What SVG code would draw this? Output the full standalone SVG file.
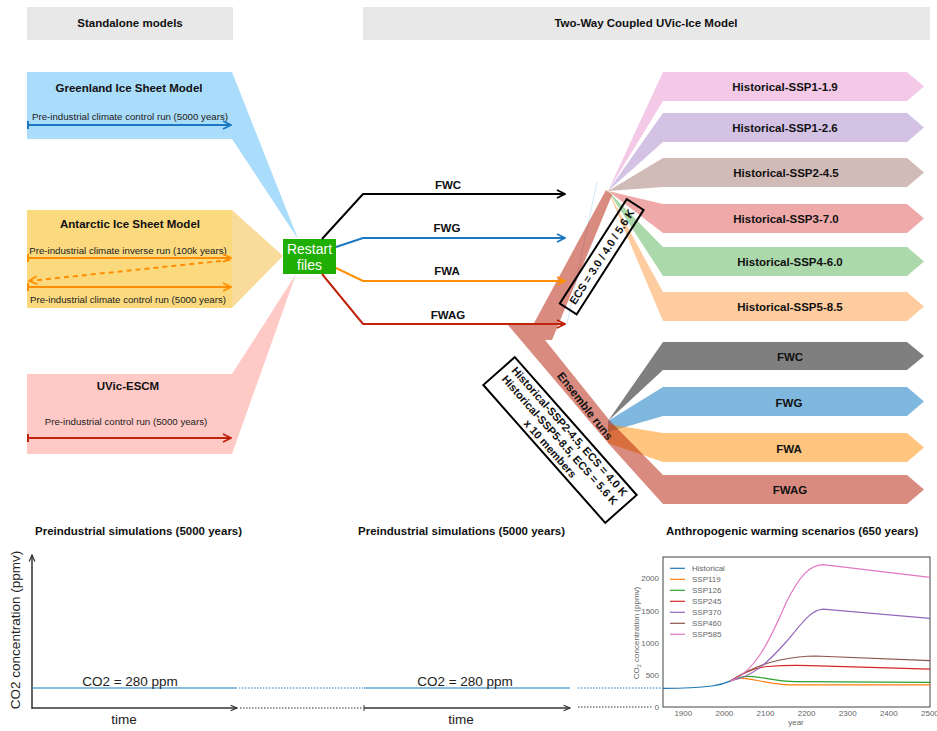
<svg xmlns="http://www.w3.org/2000/svg" width="937" height="731" viewBox="0 0 937 731">
<style>
text{font-family:"Liberation Sans",Arial,Helvetica,sans-serif;}
.hdr{font-size:11.5px;font-weight:bold;fill:#111;text-anchor:middle}
.ttl{font-size:11.5px;font-weight:bold;fill:#111;text-anchor:middle}
.sm{font-size:9.7px;fill:#222;text-anchor:middle}
.lab{font-size:11.5px;font-weight:bold;fill:#111;text-anchor:middle}
.box{font-size:11px;font-weight:bold;fill:#111;text-anchor:middle}
.ln{fill:none;stroke-width:2}
.tk{font-size:8px;fill:#666}
.lg{font-size:8px;fill:#666}
.big{font-size:13.5px;fill:#222;text-anchor:middle}
.cv{fill:none;stroke-width:1.2}
.dot{fill:none;stroke-width:1.2;stroke-dasharray:1.5 1.5}
</style>
<defs>
<marker id="mK" viewBox="0 0 10 10" refX="9" refY="5" markerWidth="10" markerHeight="10" markerUnits="userSpaceOnUse" orient="auto"><path d="M1,1 L9,5 L1,9" fill="none" stroke="#000" stroke-width="1.8"/></marker>
<marker id="mB" viewBox="0 0 10 10" refX="9" refY="5" markerWidth="10" markerHeight="10" markerUnits="userSpaceOnUse" orient="auto"><path d="M1,1 L9,5 L1,9" fill="none" stroke="#1a78c2" stroke-width="1.8"/></marker>
<marker id="mO" viewBox="0 0 10 10" refX="9" refY="5" markerWidth="10" markerHeight="10" markerUnits="userSpaceOnUse" orient="auto"><path d="M1,1 L9,5 L1,9" fill="none" stroke="#ff8f00" stroke-width="1.8"/></marker>
<marker id="mR" viewBox="0 0 10 10" refX="9" refY="5" markerWidth="10" markerHeight="10" markerUnits="userSpaceOnUse" orient="auto"><path d="M1,1 L9,5 L1,9" fill="none" stroke="#c0220c" stroke-width="1.8"/></marker>
<marker id="mA" viewBox="0 0 10 10" refX="9" refY="5" markerWidth="8" markerHeight="8" markerUnits="userSpaceOnUse" orient="auto"><path d="M1,1.5 L9,5 L1,8.5" fill="none" stroke="#333" stroke-width="1.5"/></marker>
</defs>

<g id="header-standalone">
<rect x="27" y="7" width="206" height="33" fill="#e8e8e8"/>
<text x="130" y="27" class="hdr">Standalone models</text>
</g>
<g id="header-coupled">
<rect x="363" y="7" width="567" height="33" fill="#e8e8e8"/>
<text x="646" y="27" class="hdr">Two-Way Coupled UVic-Ice Model</text>
</g>

<g id="greenland">
<polygon points="27,72 232,72 298,239 232,139 27,139" fill="#aadcfb"/>
<text x="129" y="92" class="ttl">Greenland Ice Sheet Model</text>
<text x="130" y="120" class="sm">Pre-industrial climate control run (5000 years)</text>
<line x1="28" y1="125" x2="231" y2="125" stroke="#1a78c2" stroke-width="2" marker-end="url(#mB)"/>
<line x1="28" y1="121" x2="28" y2="129" stroke="#1a78c2" stroke-width="2"/>
</g>

<g id="antarctic">
<rect x="27" y="210" width="205" height="98" fill="#fbd97f"/>
<polygon points="232,210 283,256 232,308" fill="#f9dc9b"/>
<text x="130" y="228" class="ttl">Antarctic Ice Sheet Model</text>
<text x="128" y="253.5" class="sm">Pre-industrial climate inverse run (100k years)</text>
<line x1="28" y1="258" x2="231" y2="258" stroke="#ff8f00" stroke-width="2" marker-end="url(#mO)"/>
<line x1="28" y1="254" x2="28" y2="262" stroke="#ff8f00" stroke-width="2"/>
<line x1="230" y1="260" x2="29" y2="281" stroke="#ff8f00" stroke-width="2" stroke-dasharray="5 4" marker-end="url(#mO)"/>
<line x1="28" y1="287" x2="231" y2="287" stroke="#ff8f00" stroke-width="2" marker-end="url(#mO)"/>
<line x1="28" y1="283" x2="28" y2="291" stroke="#ff8f00" stroke-width="2"/>
<text x="128" y="302.5" class="sm">Pre-industrial climate control run (5000 years)</text>
</g>

<g id="uvic-escm">
<polygon points="27,374 232,374 296,274 232,454 27,454" fill="#ffc9c6"/>
<text x="128" y="390" class="ttl">UVic-ESCM</text>
<text x="126" y="425" class="sm">Pre-industrial control run (5000 years)</text>
<line x1="28" y1="438" x2="231" y2="438" stroke="#c0220c" stroke-width="2" marker-end="url(#mR)"/>
<line x1="28" y1="434" x2="28" y2="442" stroke="#c0220c" stroke-width="2"/>
</g>

<line x1="597" y1="182" x2="567" y2="324" stroke="#cfe7f7" stroke-width="1"/>

<g id="ssp-fans">
<polygon points="608,191 663,72 907,72 924,86.5 907,101 663,101" fill="#e377c2" fill-opacity="0.4"/>
<polygon points="608,191 663,113 907,113 924,127.5 907,142 663,142" fill="#9467bd" fill-opacity="0.4"/>
<polygon points="608,191 663,158 907,158 924,172.5 907,187 663,187" fill="#8c564b" fill-opacity="0.4"/>
<polygon points="608,191 663,204 907,204 924,218.5 907,233 663,233" fill="#d62728" fill-opacity="0.4"/>
<polygon points="608,191 663,247 907,247 924,261.5 907,276 663,276" fill="#2ca02c" fill-opacity="0.4"/>
<polygon points="608,191 663,292 907,292 924,306.5 907,321 663,321" fill="#ff7f0e" fill-opacity="0.4"/>
</g>
<g id="ssp-labels">
<text x="785" y="90.5" class="lab">Historical-SSP1-1.9</text>
<text x="785" y="131.5" class="lab">Historical-SSP1-2.6</text>
<text x="786" y="176.5" class="lab">Historical-SSP2-4.5</text>
<text x="786" y="223" class="lab">Historical-SSP3-7.0</text>
<text x="790" y="265.5" class="lab">Historical-SSP4-6.0</text>
<text x="790" y="310.5" class="lab">Historical-SSP5-8.5</text>
</g>

<g id="ensemble-fans">
<polygon points="608,421 663,342 907,342 924,356 907,370 663,370" fill="#000" fill-opacity="0.5"/>
<polygon points="608,421 663,387 907,387 924,401.5 907,416 663,416 608,432" fill="#0072bd" fill-opacity="0.5"/>
<polygon points="608,424 663,433 907,433 924,447.5 907,462 663,462 608,443" fill="#ff8c00" fill-opacity="0.5"/>
<path d="M508,325 L533,325 L610,421 L663,475 L907,475 L924,489.5 L907,504 L663,504 L608,443 Z M612,195 L552,340 L524,340 L533,325 L606,190 Z" fill="#b31800" fill-opacity="0.5"/>
<text x="790" y="360.5" class="lab">FWC</text>
<text x="789" y="407" class="lab">FWG</text>
<text x="789" y="453" class="lab">FWA</text>
<text x="790" y="494" class="lab">FWAG</text>
</g>

<g id="restart-files">
<rect x="283" y="239" width="53" height="35" fill="#1fae03"/>
<text x="309.5" y="254" font-size="14" fill="#fff" text-anchor="middle">Restart</text>
<text x="309.5" y="270" font-size="14" fill="#fff" text-anchor="middle">files</text>
</g>

<g id="connectors">
<polyline class="ln" points="322,239 363,194 565,194" stroke="#000" marker-end="url(#mK)"/>
<polyline class="ln" points="336,247 363,238 565,238" stroke="#1a78c2" marker-end="url(#mB)"/>
<polyline class="ln" points="336,268 363,281 565,281" stroke="#ff8f00" marker-end="url(#mO)"/>
<polyline class="ln" points="322,274 363,324 565,324" stroke="#c0220c" marker-end="url(#mR)"/>
<text x="448" y="189" class="lab">FWC</text>
<text x="447" y="232" class="lab">FWG</text>
<text x="447" y="275" class="lab">FWA</text>
<text x="448" y="319" class="lab">FWAG</text>
</g>

<g id="ecs-label" transform="translate(601.7,256.7) rotate(-57.3)">
<rect x="-62" y="-10" width="124" height="20" fill="none" stroke="#000" stroke-width="2"/>
<text x="0" y="4" class="box">ECS = 3.0 / 4.0 / 5.6 K</text>
</g>

<g id="ensemble-label">
<text transform="translate(585,406) rotate(52)" y="4" class="lab" font-size="11">Ensemble runs</text>
</g>

<g id="ensemble-box" transform="translate(560,440) rotate(48.5)">
<rect x="-92" y="-21" width="184" height="42" fill="none" stroke="#000" stroke-width="2"/>
<text x="0" y="-9" class="box">Historical-SSP2-4.5, ECS = 4.0 K</text>
<text x="0" y="4" class="box">Historical-SSP5-8.5, ECS = 5.6 K</text>
<text x="0" y="17" class="box">x 10 members</text>
</g>

<g id="bottom-titles">
<text x="35" y="535" font-size="11.5" font-weight="bold" fill="#111">Preindustrial simulations (5000 years)</text>
<text x="358" y="535" font-size="11.5" font-weight="bold" fill="#111">Preindustrial simulations (5000 years)</text>
<text x="666" y="535" font-size="11.5" font-weight="bold" fill="#111">Anthropogenic warming scenarios (650 years)</text>
</g>

<g id="timeline">
<line x1="32" y1="709" x2="32" y2="555" stroke="#333" stroke-width="1.5" marker-end="url(#mA)"/>
<line x1="32" y1="708" x2="237" y2="708" stroke="#333" stroke-width="1.5" marker-end="url(#mA)"/>
<line x1="240" y1="708" x2="362" y2="708" stroke="#333" class="dot"/>
<line x1="364" y1="705" x2="364" y2="711" stroke="#333" stroke-width="1"/>
<line x1="364" y1="708" x2="570" y2="708" stroke="#333" stroke-width="1.5" marker-end="url(#mA)"/>
<line x1="578" y1="707" x2="652" y2="707" stroke="#333" class="dot"/>
<line x1="32" y1="688" x2="237" y2="688" stroke="#1a78c2" stroke-width="1.2"/>
<line x1="239" y1="688" x2="363" y2="688" stroke="#1a78c2" class="dot"/>
<line x1="364" y1="688" x2="570" y2="688" stroke="#1a78c2" stroke-width="1.2"/>
<line x1="578" y1="688" x2="662" y2="688" stroke="#1a78c2" class="dot"/>
<text x="130" y="686" class="big">CO2 = 280 ppm</text>
<text x="465" y="686" class="big">CO2 = 280 ppm</text>
<text x="124" y="724" class="big">time</text>
<text x="461" y="724" class="big">time</text>
<text transform="translate(20,630) rotate(-90)" class="big">CO2 concentration (ppmv)</text>
</g>

<g id="co2-chart">
<rect x="663" y="557" width="267" height="150" fill="#fff" stroke="#444" stroke-width="1"/>
<path class="cv" stroke="#1f77b4" d="M662.8,688.3 C690,688.3 700,687.5 712,686 C720,685 726,683 730.5,680.9"/>
<path class="cv" stroke="#ff7f0e" d="M730.5,680.9 C734,679 737,678.2 741,678.2 C752,678.2 770,684.6 790,684.8 L930,684.9"/>
<path class="cv" stroke="#2ca02c" d="M730.5,680.9 C737,677.5 742,676.4 749,676.4 C762,676.4 775,681.4 795,681.6 L930,682.4"/>
<path class="cv" stroke="#d62728" d="M730.5,680.9 C742,674 752,668 768,666.5 C785,665 800,665.3 810,665.6 L930,669.2"/>
<path class="cv" stroke="#8c564b" d="M730.5,680.9 C745,672 760,664 780,660 C795,657 805,656 815,656 L930,660.7"/>
<path class="cv" stroke="#9467bd" d="M730.5,680.9 C755,676 770,660 786,642 C800,626 810,610 823,609.2 L930,618.3"/>
<path class="cv" stroke="#e377c2" d="M730.5,680.9 C755,672 770,640 786,603 C800,575 810,565 823,564.6 L930,577.3"/>
<g class="tk" text-anchor="end">
<text x="659" y="710">0</text>
<text x="659" y="678">500</text>
<text x="659" y="646">1000</text>
<text x="659" y="614">1500</text>
<text x="659" y="581">2000</text>
</g>
<g class="tk" text-anchor="middle">
<text x="683.3" y="716">1900</text>
<text x="724.4" y="716">2000</text>
<text x="765.5" y="716">2100</text>
<text x="806.6" y="716">2200</text>
<text x="847.7" y="716">2300</text>
<text x="888.8" y="716">2400</text>
<text x="929.9" y="716">2500</text>
<text x="796" y="725">year</text>
</g>
<text transform="translate(639,633) rotate(-90)" class="tk" font-size="7.5" text-anchor="middle">CO<tspan font-size="5.5" dy="1.5">2</tspan><tspan dy="-1.5"> concentration (ppmv)</tspan></text>
<g id="legend">
<line x1="670" y1="568.3" x2="685" y2="568.3" stroke="#1f77b4" stroke-width="1.2"/>
<line x1="670" y1="579.3" x2="685" y2="579.3" stroke="#ff7f0e" stroke-width="1.2"/>
<line x1="670" y1="590.3" x2="685" y2="590.3" stroke="#2ca02c" stroke-width="1.2"/>
<line x1="670" y1="601.3" x2="685" y2="601.3" stroke="#d62728" stroke-width="1.2"/>
<line x1="670" y1="612.3" x2="685" y2="612.3" stroke="#9467bd" stroke-width="1.2"/>
<line x1="670" y1="623.3" x2="685" y2="623.3" stroke="#8c564b" stroke-width="1.2"/>
<line x1="670" y1="634.3" x2="685" y2="634.3" stroke="#e377c2" stroke-width="1.2"/>
<text x="692" y="571" class="lg">Historical</text>
<text x="692" y="582" class="lg">SSP119</text>
<text x="692" y="593" class="lg">SSP126</text>
<text x="692" y="604" class="lg">SSP245</text>
<text x="692" y="615" class="lg">SSP370</text>
<text x="692" y="626" class="lg">SSP460</text>
<text x="692" y="637" class="lg">SSP585</text>
</g>
</g>
</svg>
